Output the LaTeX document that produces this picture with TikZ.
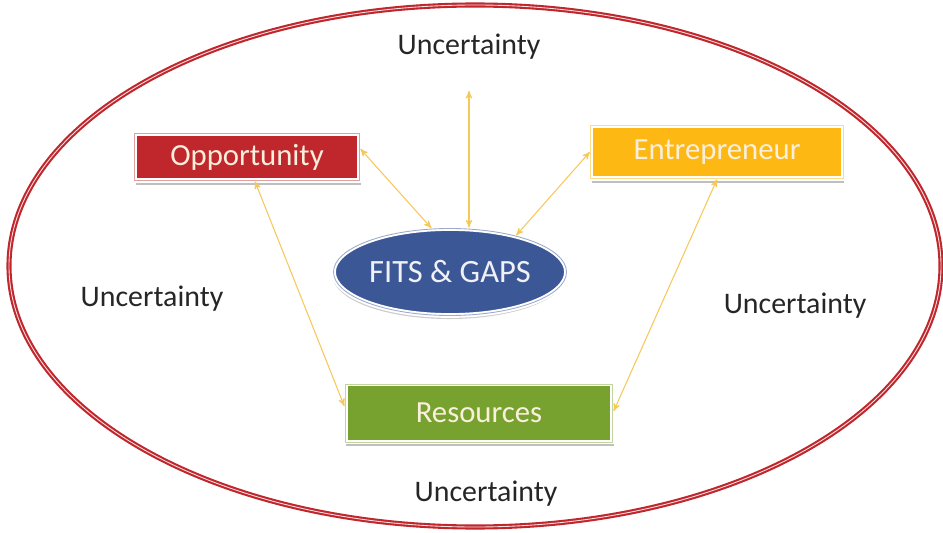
\documentclass[tikz,border=0pt]{standalone}
\usepackage{fontspec}
\setmainfont{Carlito}
\usepackage{xcolor}
\usetikzlibrary{arrows,shapes,shadows,calc}
\definecolor{oppred}{RGB}{192,39,45}
\definecolor{entyel}{RGB}{253,184,19}
\definecolor{resgrn}{RGB}{119,162,47}
\definecolor{fitblu}{RGB}{60,87,150}
\definecolor{arryel}{RGB}{246,200,90}
\definecolor{boxtxt}{RGB}{250,238,220}
\tikzset{%
    blk/.style={rectangle, draw=white, line width=1.1pt, double distance=0.5pt,
      text=boxtxt, font=\fontsize{17.5}{20}\selectfont, inner sep=0pt,
      drop shadow={shadow xshift=0.6pt, shadow yshift=-2.5pt, opacity=0.5}},
}
\tikzstyle{unc}=[font=\fontsize{17}{20}\selectfont, text=black!85]
\tikzstyle{ar}=[<->, >=stealth', arryel, line width=0.6pt]

\begin{document}
\begin{tikzpicture}
      \useasboundingbox (0,0) rectangle (18.86,-10.66);
      % outer ring
      \draw[oppred, line width=1.2pt, double=white!85!oppred, double distance=0.5pt]
          (9.5,-5.32) ellipse [x radius=9.32cm, y radius=5.22cm];

      \node [blk, fill=oppred, double=oppred!45, minimum width=4.5cm, minimum height=0.94cm] (opp) at (4.94,-3.14) {Opportunity};
      \node [blk, fill=entyel, double=entyel!50, minimum width=5.05cm, minimum height=1.06cm] (ent) at (14.34,-3.04) {Entrepreneur};
      \node [blk, fill=resgrn, double=resgrn!45, minimum width=5.35cm, minimum height=1.16cm] (res) at (9.58,-8.26) {Resources};
      \node [ellipse, fill=fitblu, draw=white, line width=1.1pt, double=fitblu!50, double distance=0.5pt,
             text=white!92!fitblu, font=\fontsize{18.5}{21}\selectfont, inner sep=0pt,
             minimum width=4.66cm, minimum height=1.74cm,
             drop shadow={shadow xshift=-0.5pt, shadow yshift=-2pt, opacity=0.4}] (fits) at (9.0,-5.44) {FITS \& GAPS};

      \node [unc] (u1) at (9.38,-0.94) {Uncertainty};
      \node [unc] (u2) at (3.04,-5.98) {Uncertainty};
      \node [unc] (u3) at (15.9,-6.12) {Uncertainty};
      \node [unc] (u4) at (9.72,-9.88) {Uncertainty};

      \draw[ar, shorten <=0.5cm] (u1.south) -- (u1.south |- fits.north);
      \draw[ar] ([yshift=0.16cm]opp.east) -- (fits.113);
      \draw[ar] (ent.west) -- (fits.29);
      \draw[ar] ([xshift=0.16cm]opp.south) -- ([yshift=0.14cm]res.west);
      \draw[ar] (ent.south) -- ([yshift=0.04cm]res.east);
\end{tikzpicture}
\end{document}
